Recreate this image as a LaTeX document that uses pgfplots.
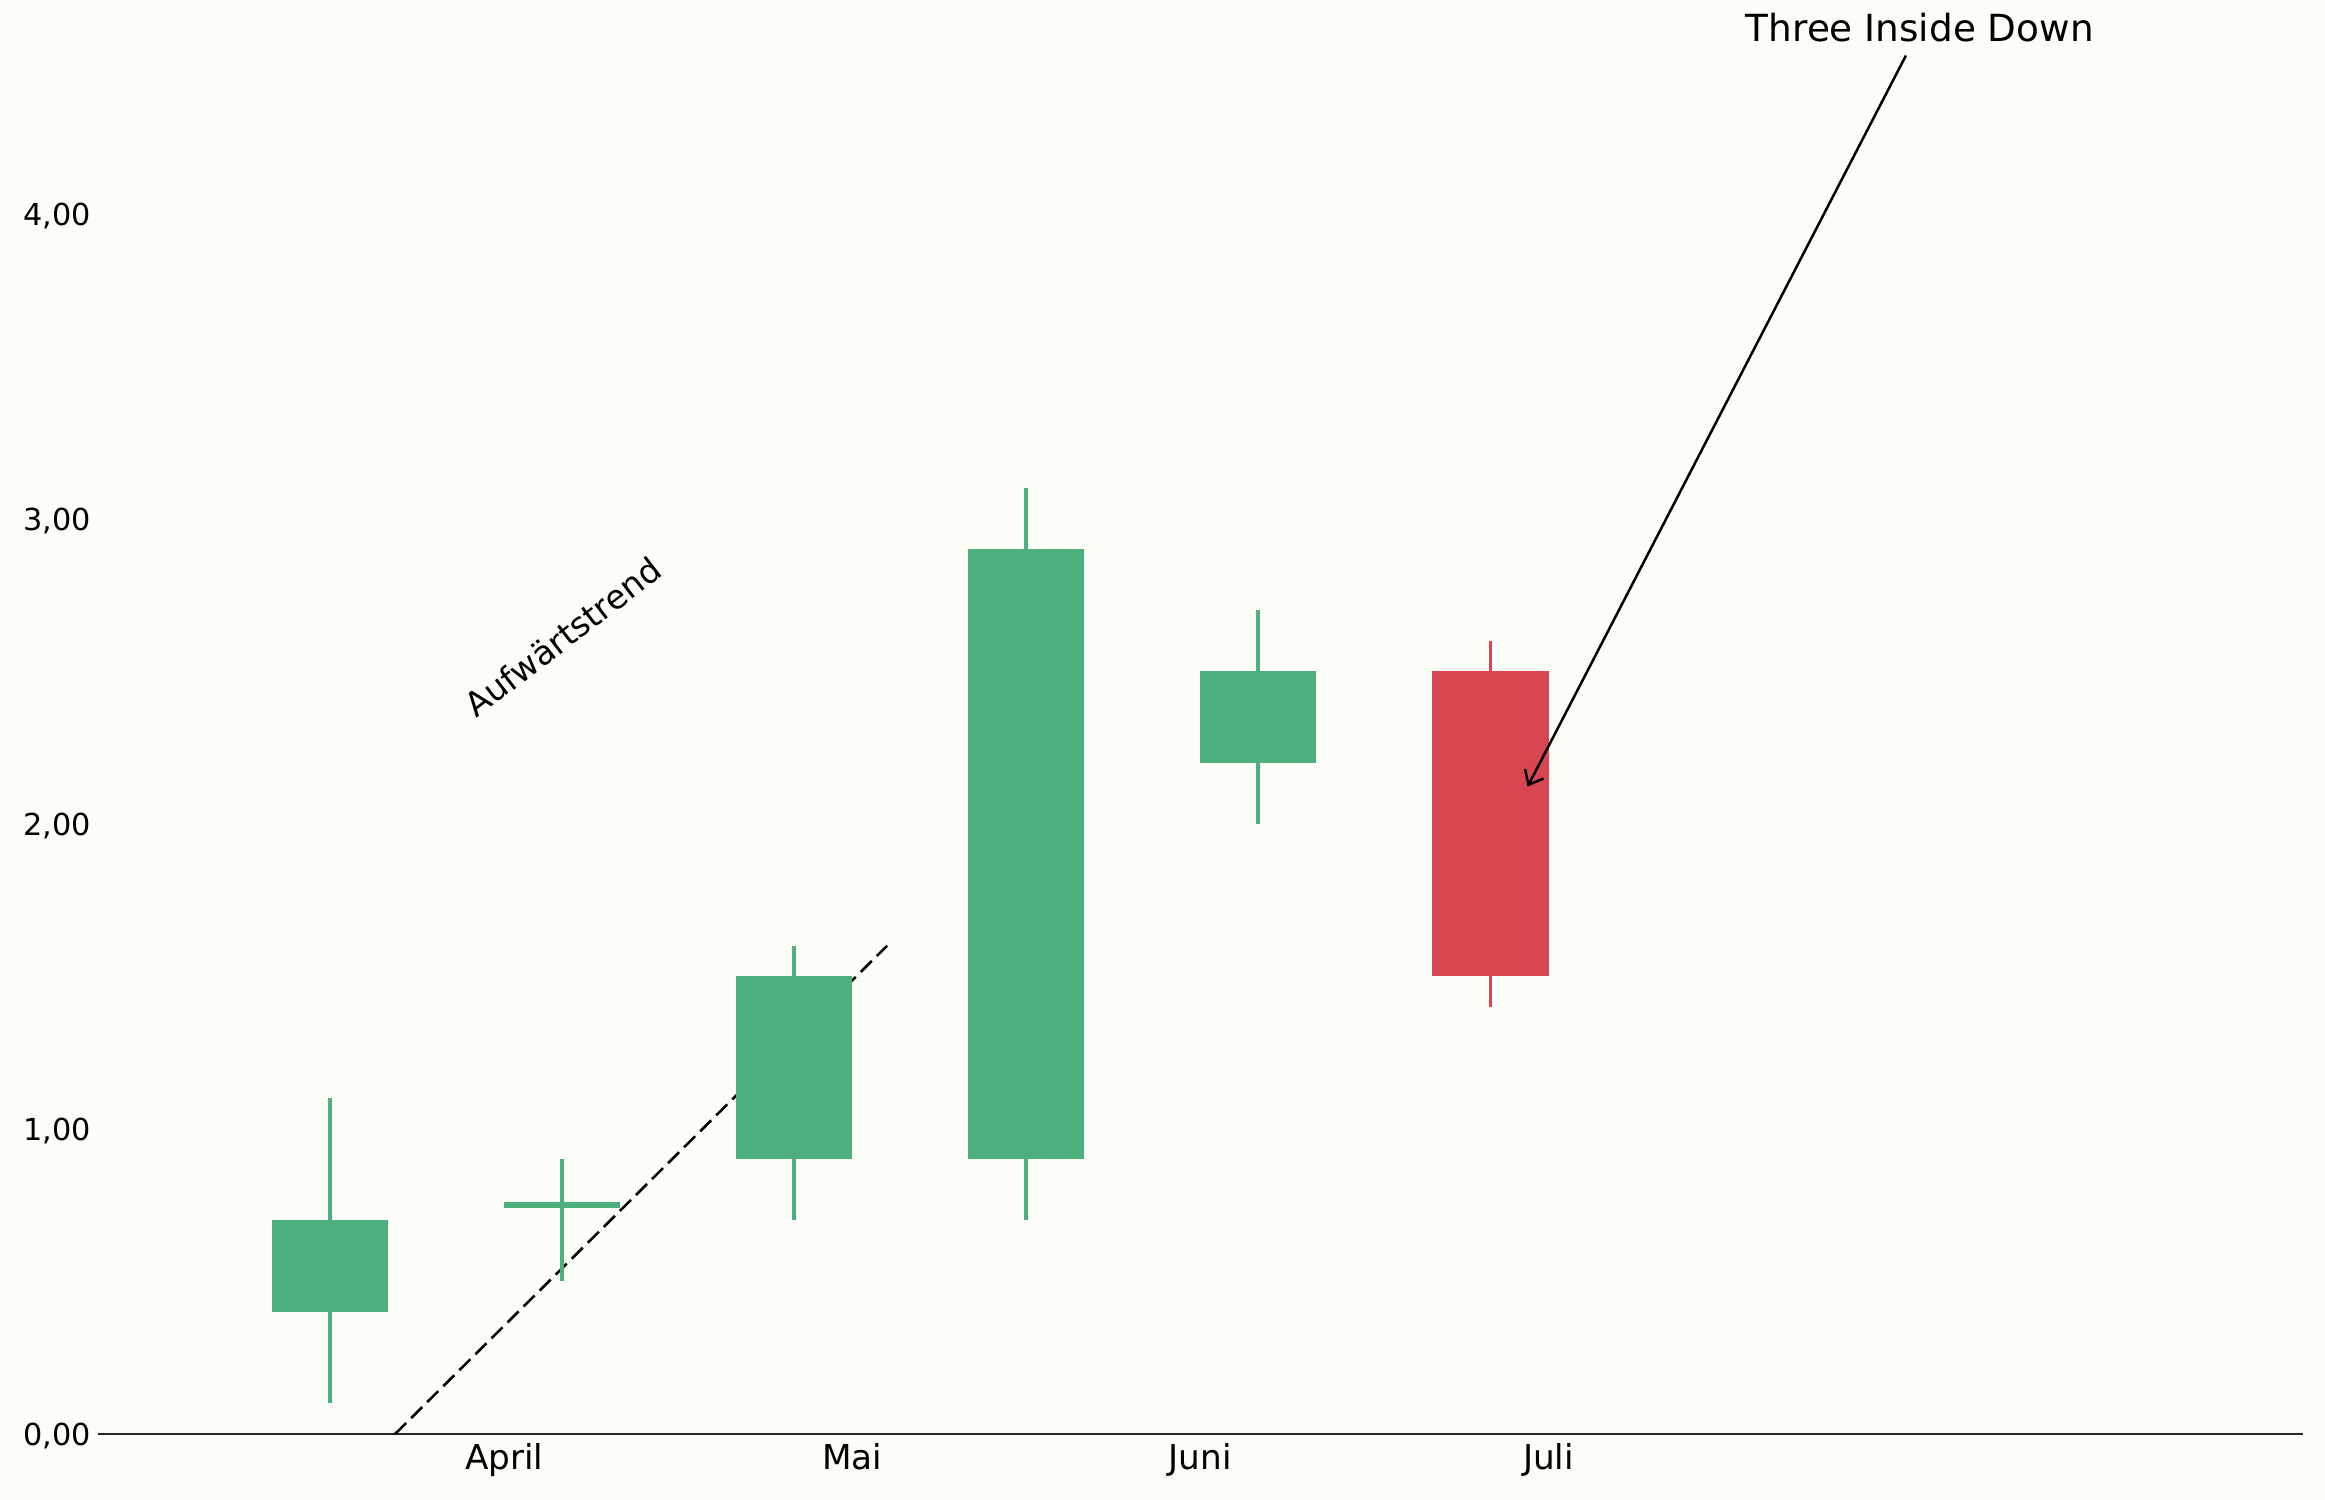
\documentclass[border=0pt]{standalone}
\usepackage{pgfplots}
\pgfplotsset{compat=1.18}
\usetikzlibrary{arrows.meta}
\usepackage{fontspec}
\setmainfont{DejaVu Sans}
\definecolor{bgc}{HTML}{FDFDF8}
\definecolor{up}{HTML}{4DAF7D}
\definecolor{down}{HTML}{D84651}
\definecolor{axc}{HTML}{262626}
\begin{document}
\begin{tikzpicture}
\fill[bgc] (-0.65333in,-0.44in) rectangle (14.84667in,9.56in);
\begin{axis}[
  at={(0,0)}, anchor=south west,
  scale only axis,
  width=14.7in, height=9.56in,
  xmin=-1, xmax=8.5, ymin=0, ymax=4.7,
  clip=false,
  axis x line=bottom, axis y line=left,
  x axis line style={-, line width=1pt, color=axc},
  y axis line style={draw=none},
  major tick length=0pt,
  xtick={0.75,2.25,3.75,5.25},
  xticklabels={April,Mai,Juni,Juli},
  ytick={0,1,2,3,4},
  xticklabel style={font=\fontsize{16.5}{19}\selectfont, yshift=-1pt},
  yticklabel style={font=\fontsize{14.6}{17}\selectfont, yshift=-1pt},
  /pgf/number format/.cd, fixed, fixed zerofill, precision=2, use comma, assume math mode=true,
]
% trend line
\addplot[black, line width=1.25pt, dash pattern=on 7.5pt off 3.4pt] coordinates {(0.28,0) (2.4,1.6)};
% wicks
\addplot[up, line width=1.9pt] coordinates {(0,0.1) (0,1.1)};
\addplot[up, line width=1.9pt] coordinates {(1,0.5) (1,0.9)};
\addplot[up, line width=1.9pt] coordinates {(2,0.7) (2,1.6)};
\addplot[up, line width=1.9pt] coordinates {(3,0.7) (3,3.1)};
\addplot[up, line width=1.9pt] coordinates {(4,2.0) (4,2.7)};
\addplot[down, line width=1.9pt] coordinates {(5,1.4) (5,2.6)};
% bodies
\addplot[fill=up, draw=none] coordinates {(-0.25,0.4) (0.25,0.4) (0.25,0.7) (-0.25,0.7)} -- cycle;
\addplot[fill=up, draw=none] coordinates {(0.75,0.74) (1.25,0.74) (1.25,0.76) (0.75,0.76)} -- cycle;
\addplot[fill=up, draw=none] coordinates {(1.75,0.9) (2.25,0.9) (2.25,1.5) (1.75,1.5)} -- cycle;
\addplot[fill=up, draw=none] coordinates {(2.75,0.9) (3.25,0.9) (3.25,2.9) (2.75,2.9)} -- cycle;
\addplot[fill=up, draw=none] coordinates {(3.75,2.2) (4.25,2.2) (4.25,2.5) (3.75,2.5)} -- cycle;
\addplot[fill=down, draw=none] coordinates {(4.75,1.5) (5.25,1.5) (5.25,2.5) (4.75,2.5)} -- cycle;
% annotations
\node[anchor=base, rotate=37.6, font=\fontsize{16.1}{19}\selectfont, inner sep=0pt] at (axis cs:1.035,2.58) {Aufwärtstrend};
\node[anchor=base, font=\fontsize{18}{21}\selectfont, inner sep=0pt] at (axis cs:6.85,4.565) {Three Inside Down};
\draw[-{Straight Barb[length=6pt, width=10pt, line width=1.2pt]}, line width=1.2pt, black] (axis cs:6.79,4.518) -- (axis cs:5.16,2.122);
\end{axis}
\pgfresetboundingbox
\useasboundingbox (-0.65333in,-0.44in) rectangle (14.84667in,9.56in);
\end{tikzpicture}
\end{document}
